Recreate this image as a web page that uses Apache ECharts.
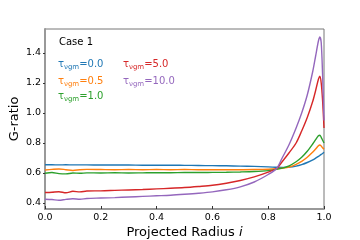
<!DOCTYPE html>
<html><head><meta charset="utf-8">
<script src="https://cdn.jsdelivr.net/npm/echarts@6/dist/echarts.min.js"></script>
<style>html,body{margin:0;padding:0;background:#fff}#c{width:360px;height:240px}</style>
</head><body><div id="c"></div>
<script>
const radius = [0,0.025,0.05,0.075,0.1,0.125,0.15,0.2,0.25,0.3,0.35,0.4,0.45,0.5,0.55,0.6,0.65,0.7,0.75,0.8,0.83,0.85,0.875,0.9,0.92,0.94,0.96,0.97,0.98,0.985,0.99,0.995,1.0];
const tau0  = [0.655,0.655,0.654,0.655,0.654,0.654,0.654,0.653,0.653,0.653,0.652,0.652,0.652,0.651,0.650,0.649,0.648,0.646,0.644,0.641,0.638,0.637,0.639,0.646,0.656,0.670,0.688,0.699,0.711,0.717,0.724,0.730,0.738];
const tau05 = [0.620,0.624,0.627,0.622,0.617,0.622,0.624,0.623,0.622,0.623,0.622,0.623,0.622,0.623,0.622,0.622,0.622,0.622,0.623,0.625,0.628,0.632,0.640,0.658,0.678,0.705,0.740,0.760,0.782,0.787,0.780,0.768,0.758];
const tau1  = [0.598,0.603,0.596,0.594,0.600,0.598,0.601,0.600,0.602,0.600,0.601,0.602,0.602,0.603,0.603,0.604,0.605,0.607,0.610,0.616,0.624,0.632,0.648,0.675,0.705,0.745,0.795,0.823,0.848,0.852,0.838,0.818,0.800];
const tau5  = [0.470,0.472,0.475,0.468,0.478,0.474,0.480,0.481,0.484,0.487,0.490,0.494,0.498,0.503,0.510,0.518,0.532,0.550,0.574,0.606,0.630,0.675,0.735,0.800,0.880,0.970,1.080,1.150,1.225,1.245,1.200,1.080,0.900];
const tau10 = [0.425,0.423,0.418,0.424,0.428,0.425,0.430,0.433,0.436,0.440,0.444,0.448,0.452,0.458,0.465,0.474,0.488,0.508,0.540,0.590,0.630,0.700,0.790,0.900,1.000,1.120,1.280,1.380,1.480,1.507,1.470,1.250,0.950];
const seriesNames = ['0.0','0.5','1.0','5.0','10.0'];
const seriesValues = [tau0, tau05, tau1, tau5, tau10];
const colors = ['#1f77b4','#ff7f0e','#2ca02c','#d62728','#9467bd'];
const xTicks = [0,0.2,0.4,0.6,0.8,1.0];
const yTicks = [0.4,0.6,0.8,1.0,1.2,1.4];
const font = 'DejaVu Sans';

const chart = echarts.init(document.getElementById('c'), null, {renderer:'canvas'});
function legendText(name, color, x, y){
  return {type:'text', left:x, top:y, style:{
    text:'{t|τ}{s|νgm}{t|='+name+'}',
    rich:{
      t:{fontFamily:font,fontSize:10,fill:color,color:color,lineHeight:13},
      s:{fontFamily:font,fontSize:7,fill:color,color:color,lineHeight:9,verticalAlign:'bottom'}
    }, fill:color, font:'10px '+font}};
}
const legendPos = [[58,59],[58,76],[58,91],[123,59],[123,76]];
chart.setOption({
  animation:false,
  grid:{left:45,right:36,top:29,bottom:31,containLabel:false,outerBoundsMode:'none',show:true,borderColor:'#777',borderWidth:1},
  xAxis:{type:'value',min:0,max:1,interval:0.2,
    name:'Projected Radius {i|i}',nameLocation:'middle',nameGap:17,nameMoveOverlap:false,
    nameTextStyle:{fontFamily:font,fontSize:13,color:'#000',rich:{i:{fontFamily:font,fontSize:13,fontStyle:'italic',color:'#000'}}},
    axisLine:{show:true,lineStyle:{color:'#999',width:2}},
    axisTick:{show:true,inside:true,length:3,lineStyle:{color:'#333'},customValues:xTicks},
    axisLabel:{fontFamily:font,fontSize:9.5,color:'#000',margin:4,customValues:xTicks,formatter:v=>v.toFixed(1)},
    splitLine:{show:false}},
  yAxis:{type:'value',min:0.36,max:1.56,
    name:'G-ratio',nameLocation:'middle',nameGap:24,nameMoveOverlap:false,
    nameTextStyle:{fontFamily:font,fontSize:13,color:'#000'},
    axisLine:{show:true,lineStyle:{color:'#999',width:2}},
    axisTick:{show:true,inside:false,length:2,lineStyle:{color:'#333'},customValues:yTicks},
    axisLabel:{fontFamily:font,fontSize:9.5,color:'#000',margin:4,customValues:yTicks,formatter:v=>v.toFixed(1)},
    splitLine:{show:false}},
  series: seriesNames.map((n,i)=>({
    name:n,type:'line',showSymbol:false,smooth:0.3,
    data: radius.map((r,k)=>[r, seriesValues[i][k]]),
    lineStyle:{color:colors[i],width:1.4},itemStyle:{color:colors[i]},z:2+i
  })),
  graphic:[
    {type:'text',left:59,top:37,style:{text:'Case 1',font:'10px '+font,fill:'#000'}},
    ...seriesNames.map((n,i)=>legendText(n,colors[i],legendPos[i][0],legendPos[i][1]))
  ]
});
</script></body></html>
